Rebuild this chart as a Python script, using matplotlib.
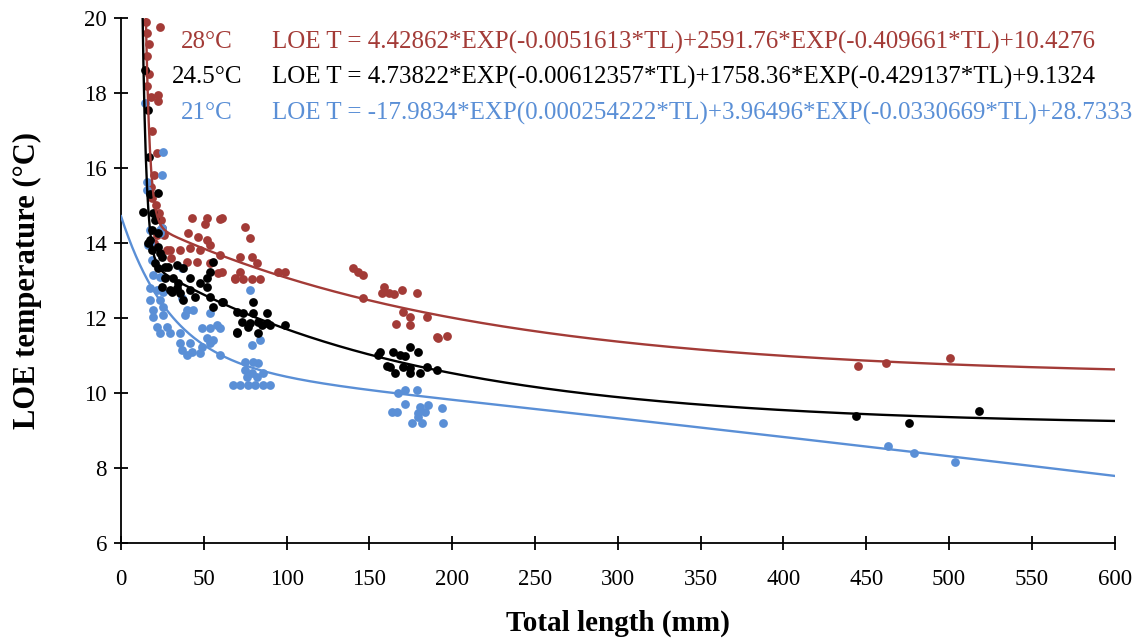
import numpy as np
from matplotlib import pyplot as plt

# scatter data: (total length mm, LOE temperature C)
red_x = [15, 16, 17, 16, 17, 16, 18, 23.5, 22.3, 22.5, 18.7, 22, 20, 18, 19, 21, 23, 24, 25, 22, 20, 26, 28, 30,
         42.6, 51.7, 59.7, 50.7, 40.4, 46.5, 51.7, 35.6, 41.6, 47.7, 53.7, 39.6, 45.7, 53.7, 58.5, 29.6, 68.8,
         60.8, 74.8, 77.9, 59.7, 71.8, 78.9, 81.9, 71.8, 60.8, 68.8, 73.6, 78.9, 83.9, 94.7, 99,
         140, 143, 146, 159, 157.5, 162, 165, 169.6, 179, 146, 170, 174.4, 184.6, 174.4, 166, 190.7, 196.7, 191.3,
         444.8, 462, 500.3]
red_y = [19.9, 19.6, 19.3, 19.0, 18.5, 18.2, 17.9, 19.76, 17.95, 17.8, 17.0, 16.4, 15.8, 15.5, 15.2, 15.0, 14.8, 14.6, 14.4, 14.2, 14.0, 14.2, 13.8, 13.6,
         14.67, 14.67, 14.64, 14.5, 14.27, 14.16, 14.08, 13.81, 13.87, 13.8, 13.95, 13.5, 13.5, 13.47, 13.2, 13.8, 13.07,
         14.67, 14.43, 14.13, 13.68, 13.63, 13.63, 13.47, 13.23, 13.23, 13.04, 13.04, 13.04, 13.04, 13.23, 13.23,
         13.33, 13.23, 13.15, 12.83, 12.67, 12.67, 12.64, 12.75, 12.67, 12.53, 12.16, 12.03, 12.03, 11.81, 11.84, 11.5, 11.52, 11.47,
         10.72, 10.8, 10.93]

black_x = [14.5, 16.5, 16.9, 22.3, 17.5, 13.3, 19.3, 20.5, 18.7, 22.3, 17.5, 22.3, 18.7, 24.7, 20.5, 26.6,
           22.3, 28.4, 26.6, 34.4, 24.7, 30.8, 35.6, 16.5, 23.5, 33.8, 37.4, 41.6, 51.9, 55.5, 53.7, 33.8, 41.6,
           47.7, 51.9, 53.7, 44.7, 37.4, 55.5, 61.6, 70, 70, 31.4, 29.6,
           61, 79.7, 73.6, 79.7, 88.1, 73, 77.9, 82.7, 88.1, 85.1, 89.9, 99, 76.6, 70, 82.7,
           156.3, 155, 164, 168.4, 174.4, 179.2, 171.4, 160.5, 162.3, 170.2, 174.4, 184.7, 190.7, 165.4, 174.4, 180.4,
           443.6, 475.6, 517.8]
black_y = [18.61, 17.55, 16.3, 15.33, 15.3, 14.83, 14.8, 14.61, 14.35, 14.27, 14.08, 13.89, 13.81, 13.63, 13.47, 13.36,
           13.33, 13.36, 13.07, 12.93, 12.83, 12.69, 12.67, 14.0, 13.73, 13.41, 13.33, 13.07, 13.07, 13.49, 13.23, 12.8, 12.75,
           12.93, 12.83, 12.56, 12.56, 12.48, 12.29, 12.43, 12.16, 11.63, 13.07, 12.75,
           12.43, 12.43, 12.13, 12.13, 12.13, 11.89, 11.87, 11.89, 11.87, 11.81, 11.81, 11.81, 11.76, 11.6, 11.6,
           11.09, 11.01, 11.09, 11.01, 11.23, 11.09, 10.99, 10.72, 10.69, 10.69, 10.67, 10.69, 10.61, 10.53, 10.53, 10.53,
           9.39, 9.2, 9.52]

blue_x = [14.5, 25.3, 24.7, 15.7, 15.7, 17.5, 24.7, 23.5, 16.3, 18.7, 23.5, 17.5, 19.3, 23.5, 36.8, 17.5, 21.7, 25.3,
          17.5, 23.5, 36.8, 43.5, 19.3, 25.3, 19.3, 25.3, 38.6, 21.7, 27.8, 23.5, 29.6, 35.6, 35.6, 41.6, 36.8, 42.8,
          48.9, 48.9, 53.7, 57.9, 51.9, 55.5, 53.7, 47.7, 39.8, 59.7, 53.7, 39.8,
          77.9, 79, 83.9, 59.7, 74.8, 79.7, 82.7, 74.8, 79, 85.7, 76, 82.1, 67.6, 72, 76.5, 81, 85.5, 89.9,
          167, 171.4, 178.6, 171.4, 180.4, 185.3, 193.7, 163.5, 166.6, 179.2, 183.5, 179.2, 175.6, 181.7, 194.3,
          462.9, 478.6, 503.3]
blue_y = [17.73, 16.43, 15.81, 15.63, 15.41, 14.35, 14.4, 14.27, 13.95, 13.55, 14.35, 14.0, 13.15, 13.1, 13.33, 12.8, 12.75, 12.69,
          12.48, 12.48, 12.53, 12.21, 12.21, 12.29, 12.03, 12.08, 12.08, 11.76, 11.76, 11.6, 11.6, 11.6, 11.33, 11.33, 11.15, 11.09,
          11.23, 11.73, 11.73, 11.81, 11.47, 11.41, 11.33, 11.07, 11.01, 11.01, 12.13, 12.21,
          12.75, 11.28, 11.41, 11.73, 10.83, 10.83, 10.8, 10.61, 10.53, 10.53, 10.43, 10.43, 10.21, 10.21, 10.21, 10.21, 10.21, 10.21,
          10.0, 10.08, 10.08, 9.71, 9.63, 9.68, 9.6, 9.49, 9.49, 9.47, 9.49, 9.36, 9.2, 9.2, 9.2,
          8.59, 8.4, 8.16]

# fitted models shown on the chart: a*exp(b*TL) + c*exp(d*TL) + e
red_fit = [4.42862, -0.0051613, 2591.76, -0.409661, 10.4276]
black_fit = [4.73822, -0.00612357, 1758.36, -0.429137, 9.1324]
blue_fit = [-17.9834, 0.000254222, 3.96496, -0.0330669, 28.7333]

labels = ["28\u00b0C", "24.5\u00b0C", "21\u00b0C"]
equations = ["LOE T = 4.42862*EXP(-0.0051613*TL)+2591.76*EXP(-0.409661*TL)+10.4276",
             "LOE T = 4.73822*EXP(-0.00612357*TL)+1758.36*EXP(-0.429137*TL)+9.1324",
             "LOE T = -17.9834*EXP(0.000254222*TL)+3.96496*EXP(-0.0330669*TL)+28.7333"]

red = "#A33B37"
blue = "#5A8FD6"


def model(p, x):
    return p[0] * np.exp(p[1] * x) + p[2] * np.exp(p[3] * x) + p[4]


plt.rcParams['font.family'] = ['Liberation Serif', 'DejaVu Serif']
fig = plt.figure(figsize=(11.48, 6.44), dpi=100)
ax = fig.add_axes([0.1054, 0.157, 0.8656, 0.815])

ax.scatter(red_x, red_y, s=40, color=red, linewidths=0, zorder=2)
ax.scatter(black_x, black_y, s=40, color="black", linewidths=0, zorder=3)
ax.scatter(blue_x, blue_y, s=40, color=blue, linewidths=0, zorder=2)

x_red = np.linspace(14.5, 600, 800)
x_black = np.linspace(12.8, 600, 800)
x_blue = np.linspace(0, 600, 800)
ax.plot(x_red, model(red_fit, x_red), color=red, lw=1.7, zorder=4)
ax.plot(x_black, model(black_fit, x_black), color="black", lw=1.7, zorder=4)
ax.plot(x_blue, model(blue_fit, x_blue), color=blue, lw=1.7, zorder=4)

ax.set_xlim(0, 600)
ax.set_ylim(6, 20)
ax.set_xticks(np.arange(0, 601, 50))
ax.set_yticks(np.arange(6, 21, 2))
ax.spines['top'].set_visible(False)
ax.spines['right'].set_visible(False)
ax.spines['left'].set_linewidth(1.3)
ax.spines['bottom'].set_linewidth(1.3)
ax.tick_params(direction='inout', length=10, width=1.3, labelsize=16.5, pad=5)
ax.tick_params(axis='x', pad=14)
ax.set_xlabel("Total length (mm)", fontsize=21, fontweight='bold')
ax.set_ylabel("LOE temperature (\u00b0C)", fontsize=22, fontweight='bold')
ax.xaxis.set_label_coords(0.5, -0.128)
ax.yaxis.set_label_coords(-0.079, 0.5)

colors = [red, "black", blue]
label_x = [181, 172, 181]
rows_y = [42, 77, 113]
for lab, eq, c, lx, ry in zip(labels, equations, colors, label_x, rows_y):
    fy = 1 - ry / 644
    fig.text(lx / 1148, fy, lab, color=c, fontsize=18, va='center')
    fig.text(272 / 1148, fy, eq, color=c, fontsize=18, va='center')

fig.savefig("out.png", dpi=100)
